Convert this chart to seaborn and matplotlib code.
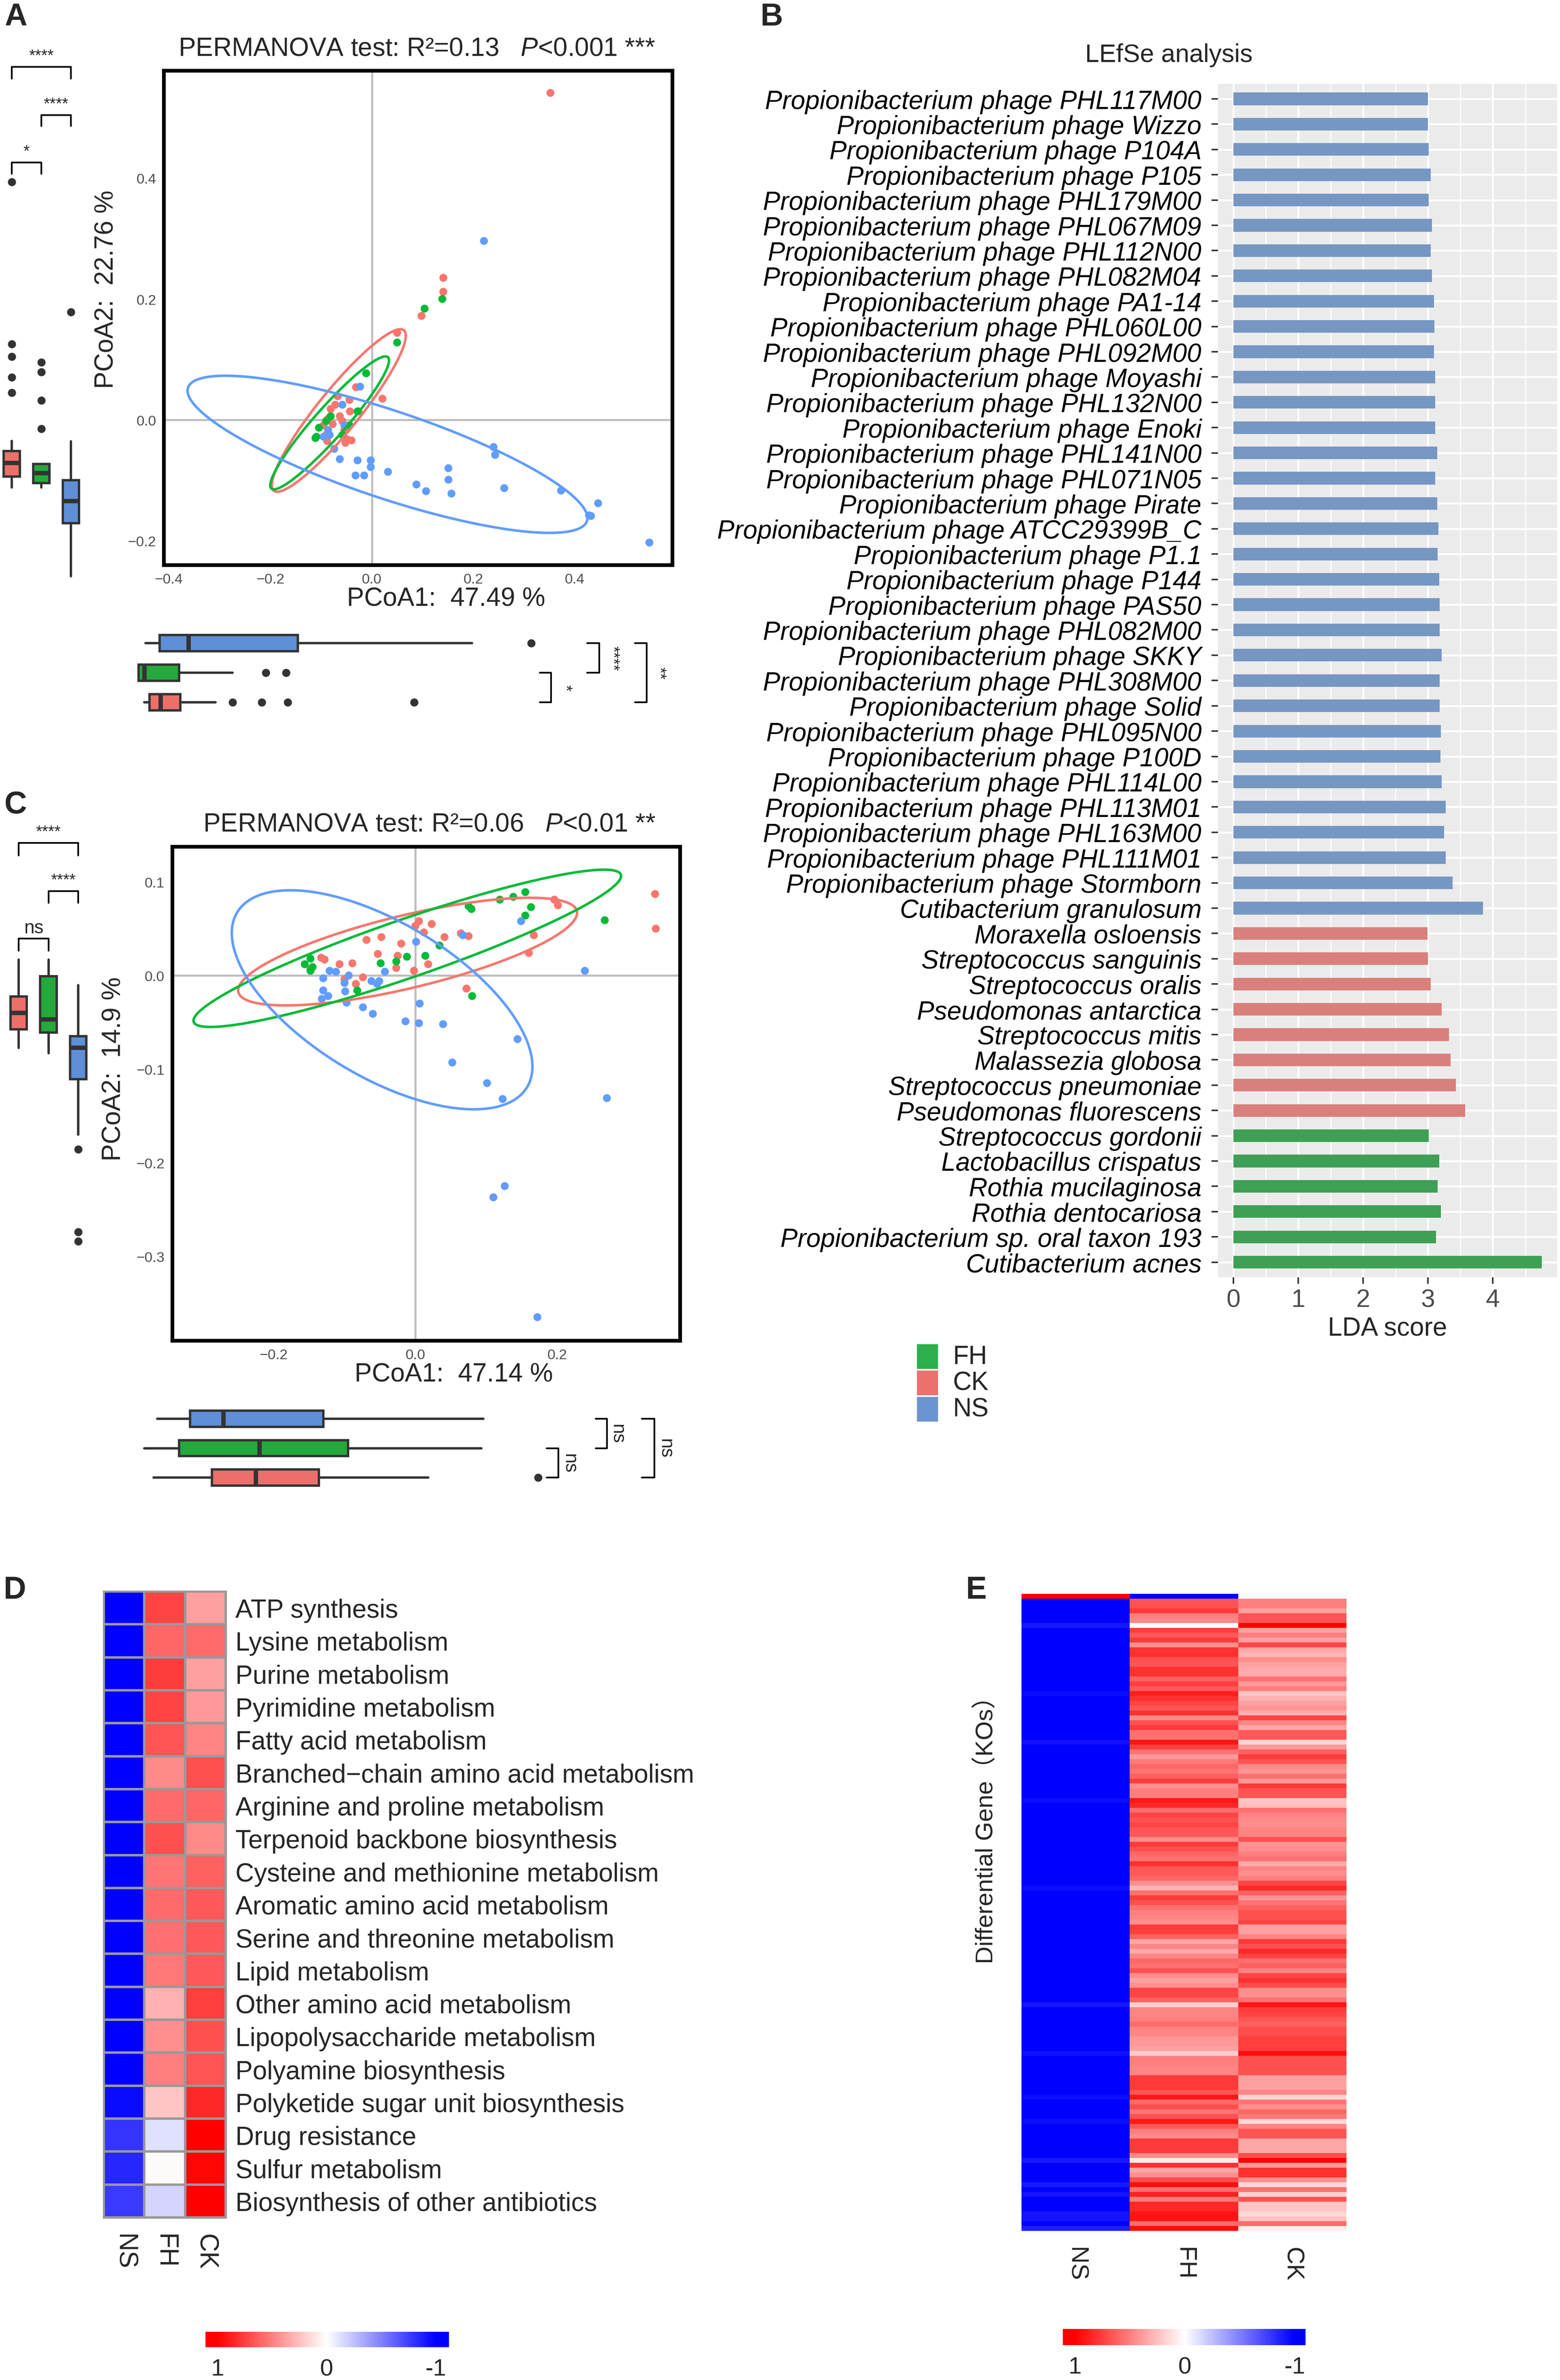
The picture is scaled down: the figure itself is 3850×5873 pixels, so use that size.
import numpy as np
import pandas as pd
import matplotlib
matplotlib.use("Agg")
import matplotlib.pyplot as plt
from matplotlib.colors import LinearSegmentedColormap, Normalize
from matplotlib.patches import Rectangle
import seaborn as sns

sns.set_style("white")
plt.rcParams["font.family"] = ["Liberation Sans", "Noto Sans CJK SC", "DejaVu Sans"]
plt.rcParams["mathtext.fontset"] = "custom"
plt.rcParams["mathtext.rm"] = "Liberation Sans"
plt.rcParams["mathtext.it"] = "Liberation Sans:italic"

# ======================= DATA =======================
GROUPS = ["CK", "FH", "NS"]

# ---- Panel A : PCoA (PCoA1 47.49 %, PCoA2 22.76 %) ----
A_CK_X = [0.352, 0.141, 0.141, 0.098, 0.050, 0.021, -0.031, -0.044, -0.043, -0.063, -0.072, -0.081,
          -0.077, -0.090, -0.095, -0.049, -0.040, -0.054, -0.067, -0.026, -0.086, -0.058, -0.088, -0.052]
A_CK_Y = [0.541, 0.235, 0.212, 0.172, 0.144, 0.035, 0.054, 0.033, 0.014, 0.006, 0.025, 0.018,
          -0.007, -0.025, -0.009, -0.032, -0.034, -0.017, 0.039, 0.014, 0.002, -0.002, -0.035, -0.038]
A_FH_X = [0.104, 0.139, 0.050, -0.011, -0.028, -0.081, -0.109, -0.111, -0.104, -0.044, -0.090, -0.058]
A_FH_Y = [0.184, 0.200, 0.128, 0.077, 0.014, 0.006, -0.028, -0.030, -0.013, -0.009, -0.002, -0.025]
A_NS_X = [0.221, -0.023, -0.058, -0.083, -0.074, -0.063, -0.028, -0.002, -0.002, -0.032, -0.015, 0.032,
          0.088, 0.107, 0.151, 0.151, 0.157, 0.240, 0.243, 0.261, 0.373, 0.446, 0.432, 0.428, 0.547,
          -0.086, -0.054, -0.095]
A_NS_Y = [0.296, 0.055, 0.025, -0.025, -0.048, -0.065, -0.067, -0.067, -0.078, -0.092, -0.092, -0.086,
          -0.107, -0.118, -0.080, -0.099, -0.122, -0.045, -0.058, -0.113, -0.117, -0.138, -0.159, -0.158,
          -0.203, -0.017, -0.009, -0.028]
# confidence ellipses: centre x, centre y, half x-extent, half y-extent, correlation
A_ELLIPSES = {"CK": [-0.065, 0.0155, 0.132, 0.1345, 0.92],
              "FH": [-0.083, -0.005, 0.117, 0.110, 0.94],
              "NS": [0.031, -0.057, 0.394, 0.130, -0.81]}
# marginal boxplots (PCoA2 on the left, PCoA1 below)
A_BOX_PC2 = {"CK": dict(whislo=-0.112, q1=-0.094, med=-0.071, q3=-0.0515, whishi=-0.035,
                        fliers=[0.393, 0.125, 0.104, 0.070, 0.045]),
             "FH": dict(whislo=-0.112, q1=-0.105, med=-0.088, q3=-0.073, whishi=-0.073,
                        fliers=[0.095, 0.079, 0.032, -0.015]),
             "NS": dict(whislo=-0.259, q1=-0.171, med=-0.134, q3=-0.100, whishi=-0.036,
                        fliers=[0.178])}
A_BOX_PC1 = {"NS": dict(whislo=-0.445, q1=-0.417, med=-0.361, q3=-0.145, whishi=0.198, fliers=[0.315]),
             "FH": dict(whislo=-0.459, q1=-0.459, med=-0.448, q3=-0.379, whishi=-0.274,
                        fliers=[-0.208, -0.168]),
             "CK": dict(whislo=-0.448, q1=-0.437, med=-0.416, q3=-0.377, whishi=-0.307,
                        fliers=[-0.274, -0.216, -0.165, 0.084])}
A_SIG_PC2 = ["****", "****", "*"]        # CK-NS, FH-NS, CK-FH
A_SIG_PC1 = ["*", "****", "**"]          # FH-CK, NS-FH, NS-CK

# ---- Panel C : PCoA (PCoA1 47.14 %, PCoA2 14.9 %) ----
C_CK_X = [0.338, 0.339, 0.196, 0.201, 0.167, 0.160, 0.072, 0.075, 0.064, 0.041, 0.023, 0.005, 0.000,
          0.012, 0.018, -0.002, -0.020, -0.025, -0.027, -0.048, -0.053, -0.069, -0.089, -0.107, -0.133,
          -0.128, -0.084, -0.074, -0.148, -0.100]
C_CK_Y = [0.087, 0.050, 0.081, 0.075, 0.043, 0.024, -0.014, 0.042, 0.045, 0.041, 0.055, 0.058, 0.053,
          0.046, 0.012, 0.005, 0.034, 0.021, 0.008, 0.041, 0.023, 0.038, 0.013, 0.012, 0.019,
          0.017, -0.009, -0.002, 0.007, -0.004]
C_FH_X = [0.155, 0.138, 0.119, 0.075, 0.079, 0.163, 0.155, 0.267, 0.080, 0.034, 0.014, -0.012, -0.027,
          -0.049, -0.082, -0.148, -0.156, -0.148, -0.145]
C_FH_Y = [0.089, 0.084, 0.081, 0.074, 0.071, 0.073, 0.064, 0.059, -0.022, 0.032, 0.021, 0.020, 0.015,
          0.013, -0.016, 0.018, 0.012, 0.005, 0.009]
C_NS_X = [0.270, 0.239, 0.149, 0.067, 0.001, 0.144, 0.101, 0.123, 0.052, 0.039, 0.005, -0.014, 0.006,
          0.126, 0.110, 0.172, -0.060, -0.074, -0.097, -0.099, -0.130, -0.132, -0.123, -0.130, -0.121,
          -0.112, -0.094, -0.100, -0.062, -0.054, -0.051, -0.043]
C_NS_Y = [-0.131, 0.005, 0.058, 0.043, 0.036, -0.068, -0.115, -0.132, -0.093, -0.052, -0.051, -0.049,
          -0.030, -0.225, -0.237, -0.365, -0.041, -0.034, -0.029, -0.017, -0.016, -0.025, -0.022, -0.003,
          0.005, 0.004, 0.000, -0.008, -0.006, -0.009, -0.006, 0.004]
C_ELLIPSES = {"CK": [-0.011, 0.0255, 0.239, 0.0575, 0.72],
              "FH": [-0.0115, 0.029, 0.3015, 0.084, 0.92],
              "NS": [-0.047, -0.026, 0.212, 0.117, -0.61]}
C_BOX_PC2 = {"CK": dict(whislo=-0.0775, q1=-0.0576, med=-0.040, q3=-0.0225, whishi=0.0168, fliers=[]),
             "FH": dict(whislo=-0.083, q1=-0.061, med=-0.047, q3=-0.001, whishi=0.017, fliers=[]),
             "NS": dict(whislo=-0.170, q1=-0.111, med=-0.077, q3=-0.065, whishi=-0.0105,
                        fliers=[-0.186, -0.274, -0.284])}
C_BOX_PC1 = {"NS": dict(whislo=-0.364, q1=-0.318, med=-0.271, q3=-0.130, whishi=0.096, fliers=[]),
             "FH": dict(whislo=-0.382, q1=-0.333, med=-0.220, q3=-0.095, whishi=0.093, fliers=[]),
             "CK": dict(whislo=-0.369, q1=-0.287, med=-0.225, q3=-0.136, whishi=0.018, fliers=[0.173])}
C_SIG_PC2 = ["****", "****", "ns"]
C_SIG_PC1 = ["ns", "ns", "ns"]

# ---- Panel B : LEfSe ----
LEFSE_TAXA = [
    "Propionibacterium phage PHL117M00", "Propionibacterium phage Wizzo", "Propionibacterium phage P104A",
    "Propionibacterium phage P105", "Propionibacterium phage PHL179M00", "Propionibacterium phage PHL067M09",
    "Propionibacterium phage PHL112N00", "Propionibacterium phage PHL082M04", "Propionibacterium phage PA1-14",
    "Propionibacterium phage PHL060L00", "Propionibacterium phage PHL092M00", "Propionibacterium phage Moyashi",
    "Propionibacterium phage PHL132N00", "Propionibacterium phage Enoki", "Propionibacterium phage PHL141N00",
    "Propionibacterium phage PHL071N05", "Propionibacterium phage Pirate", "Propionibacterium phage ATCC29399B_C",
    "Propionibacterium phage P1.1", "Propionibacterium phage P144", "Propionibacterium phage PAS50",
    "Propionibacterium phage PHL082M00", "Propionibacterium phage SKKY", "Propionibacterium phage PHL308M00",
    "Propionibacterium phage Solid", "Propionibacterium phage PHL095N00", "Propionibacterium phage P100D",
    "Propionibacterium phage PHL114L00", "Propionibacterium phage PHL113M01", "Propionibacterium phage PHL163M00",
    "Propionibacterium phage PHL111M01", "Propionibacterium phage Stormborn", "Cutibacterium granulosum",
    "Moraxella osloensis", "Streptococcus sanguinis", "Streptococcus oralis", "Pseudomonas antarctica",
    "Streptococcus mitis", "Malassezia globosa", "Streptococcus pneumoniae", "Pseudomonas fluorescens",
    "Streptococcus gordonii", "Lactobacillus crispatus", "Rothia mucilaginosa", "Rothia dentocariosa",
    "Propionibacterium sp. oral taxon 193", "Cutibacterium acnes"]
LEFSE_LDA = [3.00, 3.00, 3.01, 3.04, 3.01, 3.06, 3.04, 3.06, 3.09, 3.10, 3.09, 3.11, 3.11, 3.11, 3.14,
             3.11, 3.14, 3.16, 3.15, 3.17, 3.18, 3.18, 3.21, 3.18, 3.18, 3.20, 3.19, 3.21, 3.27, 3.25,
             3.27, 3.38, 3.85,
             2.99, 3.00, 3.04, 3.21, 3.32, 3.35, 3.43, 3.57,
             3.01, 3.17, 3.15, 3.20, 3.12, 4.75]
LEFSE_GROUP = ["NS"] * 33 + ["CK"] * 8 + ["FH"] * 6
LEFSE_LEGEND = ["FH", "CK", "NS"]

# ---- Panel D : pathway heatmap ----
D_PATHWAYS = ["ATP synthesis", "Lysine metabolism", "Purine metabolism", "Pyrimidine metabolism",
              "Fatty acid metabolism", "Branched\u2212chain amino acid metabolism",
              "Arginine and proline metabolism", "Terpenoid backbone biosynthesis",
              "Cysteine and methionine metabolism", "Aromatic amino acid metabolism",
              "Serine and threonine metabolism", "Lipid metabolism", "Other amino acid metabolism",
              "Lipopolysaccharide metabolism", "Polyamine biosynthesis",
              "Polyketide sugar unit biosynthesis", "Drug resistance", "Sulfur metabolism",
              "Biosynthesis of other antibiotics"]
D_NS = [-1, -1, -1, -1, -1, -1, -1, -1, -1, -1, -1, -1, -1, -1, -1, -0.96, -0.79, -0.85, -0.77]
D_FH = [0.73, 0.60, 0.76, 0.73, 0.67, 0.46, 0.58, 0.68, 0.54, 0.58, 0.56, 0.53, 0.31, 0.44, 0.50,
        0.23, -0.12, 0.02, -0.17]
D_CK = [0.37, 0.58, 0.37, 0.40, 0.48, 0.68, 0.60, 0.46, 0.62, 0.65, 0.65, 0.65, 0.75, 0.68, 0.67,
        0.84, 1.00, 0.97, 1.00]
HEAT_COLS = ["NS", "FH", "CK"]

# ---- Panel E : differential KO heatmap (131 KOs) ----
E_NS = [1.00, -1, -1, -1, -1, -1, -0.90, -1, -1, -1,
        -1, -1, -1, -1, -1, -1, -1, -1, -1, -1,
        -0.96, -1, -1, -1, -1, -1, -1, -1, -1, -1,
        -0.93, -1, -1, -1, -1, -1, -1, -1, -1, -1,
        -1, -1, -0.95, -1, -1, -1, -1, -1, -1, -1,
        -1, -1, -1, -1, -1, -1, -1, -1, -1, -1,
        -0.95, -1, -1, -1, -1, -1, -1, -1, -1, -1,
        -1, -1, -1, -1, -1, -1, -1, -1, -1, -1,
        -1, -1, -1, -1, -0.92, -1, -1, -1, -1, -1,
        -1, -1, -1, -1, -0.93, -1, -1, -1, -1, -1,
        -1, -1, -1, -0.95, -1, -1, -1, -1, -0.95, -1,
        -1, -1, -1, -1, -1, -1, -0.90, -1, -1, -1,
        -1, -0.90, -1, -0.92, -1, -1, -1, -0.92, -0.92, -1,
        -0.88]
E_FH = [-1.00,
        0.67, 0.68, 0.78, 0.50, 0.47, 0.00, 0.75, 0.65, 0.77, 0.44,
        0.80, 0.82, 0.68, 0.67, 0.80, 0.80, 0.62, 0.75, 0.65, 0.88,
        0.81, 0.73, 0.67, 0.81, 0.46, 0.68, 0.77, 0.56, 0.56, 0.92,
        0.75, 0.54, 0.40, 0.52, 0.60, 0.54, 0.62, 0.76, 0.44, 0.50,
        0.50, 0.90, 0.84,
        0.58, 0.73, 0.68, 0.73, 0.67, 0.65, 0.46, 0.77, 0.68, 0.60,
        0.56, 0.81, 0.65, 0.65, 0.60, 0.44, 0.29, 0.56, 0.76, 0.68,
        0.56, 0.50, 0.48, 0.44, 0.77, 0.75, 0.62, 0.35, 0.48, 0.33,
        0.48, 0.60, 0.56, 0.68, 0.44, 0.37, 0.44, 0.73, 0.73, 0.62,
        0.18, 0.48, 0.48, 0.50, 0.58, 0.48, 0.48,
        0.40, 0.40, 0.37, 0.20, 0.50, 0.50, 0.48, 0.48, 0.77, 0.77,
        0.78, 0.67, 0.90, 0.58, 0.70, 0.54, 0.68, 0.90, 0.65, 0.50,
        0.46, 0.77, 0.77, 0.77, 0.46, 0.08, 0.81, 0.35, 0.44, 0.70,
        0.94, 0.56, 0.87, 0.52, 0.84, 0.84, 0.92, 0.92, 0.58, 0.96]
E_CK = [-0.03,
        0.50, 0.50, 0.37, 0.67, 0.67, 1.00, 0.37, 0.50, 0.37, 0.73,
        0.35, 0.29, 0.44, 0.37, 0.33, 0.33, 0.56, 0.40, 0.50, 0.23,
        0.31, 0.37, 0.42, 0.31, 0.73, 0.48, 0.35, 0.65, 0.65, 0.17,
        0.40, 0.62, 0.77, 0.67, 0.46, 0.42, 0.56, 0.40, 0.77, 0.67,
        0.67, 0.23, 0.25,
        0.56, 0.48, 0.46, 0.44, 0.48, 0.48, 0.68, 0.42, 0.44, 0.50,
        0.56, 0.33, 0.48, 0.44, 0.50, 0.73, 0.84, 0.62, 0.42, 0.54,
        0.62, 0.68, 0.68, 0.73, 0.37, 0.37, 0.48, 0.77, 0.68, 0.84,
        0.73, 0.56, 0.62, 0.48, 0.73, 0.81, 0.70, 0.44, 0.44, 0.56,
        0.92, 0.77, 0.73, 0.67, 0.62, 0.70, 0.70,
        0.75, 0.75, 0.75, 0.94, 0.68, 0.68, 0.68, 0.68, 0.37, 0.37,
        0.37, 0.48, 0.17, 0.54, 0.44, 0.60, 0.52, 0.15, 0.48, 0.67,
        0.67, 0.35, 0.35, 0.35, 0.70, 0.98, 0.40, 0.81, 0.81, 0.44,
        0.15, 0.56, 0.18, 0.67, 0.23, 0.23, 0.15, 0.23, 0.58, 0.06]

# ======================= STYLE =======================
PT_COL = {"CK": "#F8766D", "FH": "#00BA38", "NS": "#619CFF"}
BOX_COL = {"CK": "#EC7069", "FH": "#25A83C", "NS": "#5F8FD6"}
BAR_COL = {"CK": "#EA726C", "FH": "#2DB04B", "NS": "#6A95D0"}
CMAP = LinearSegmentedColormap.from_list("bwr_ph", ["#0000FF", "#FFFFFF", "#FF0000"])
DARK = "#333333"

W, H, DPI = 3850, 5874, 300
fig = plt.figure(figsize=(W / DPI, H / DPI), dpi=DPI)


def rect(l, t, r, b):
    return [l / W, 1 - b / H, (r - l) / W, (b - t) / H]


def ftext(x, y, s, **kw):
    return fig.text(x / W, 1 - y / H, s, **kw)


def minus(v):
    return ("%.1f" % v).replace("-", "\u2212")


def draw_boxes(ax, stats_dict, order, positions, horizontal):
    stats = [dict(stats_dict[g]) for g in order]
    kw = dict(positions=positions, widths=0.55, patch_artist=True, showcaps=False, manage_ticks=False,
              boxprops=dict(edgecolor=DARK, linewidth=1.4),
              whiskerprops=dict(color=DARK, linewidth=1.4),
              medianprops=dict(color=DARK, linewidth=2.6, solid_capstyle="butt"),
              flierprops=dict(marker="o", markerfacecolor=DARK, markeredgecolor=DARK,
                              markersize=3.8, linestyle="none"))
    try:
        arts = ax.bxp(stats, orientation="horizontal" if horizontal else "vertical", **kw)
    except TypeError:
        arts = ax.bxp(stats, vert=not horizontal, **kw)
    for patch, g in zip(arts["boxes"], order):
        patch.set_facecolor(BOX_COL[g])


def clean(ax):
    ax.set_facecolor("none")
    for s in ax.spines.values():
        s.set_visible(False)
    ax.set_xticks([])
    ax.set_yticks([])


def pcoa_panel(box, xlim, ylim, xticks, yticks, pts, ell):
    ax = fig.add_axes(rect(*box))
    ax.axhline(0, color="#BEBEBE", lw=1.2, zorder=0)
    ax.axvline(0, color="#BEBEBE", lw=1.2, zorder=0)
    frames = [pd.DataFrame({"x": pts[g][0], "y": pts[g][1], "grp": g}) for g in GROUPS]
    df = pd.concat(frames, ignore_index=True)
    sns.scatterplot(data=df, x="x", y="y", hue="grp", palette=PT_COL, hue_order=GROUPS,
                    s=22, linewidth=0, legend=False, ax=ax, zorder=3)
    t = np.linspace(0, 2 * np.pi, 400)
    for g in GROUPS:
        cx, cy, hx, hy, rho = ell[g]
        ex = cx + hx * np.cos(t)
        ey = cy + hy * (rho * np.cos(t) + np.sqrt(1 - rho ** 2) * np.sin(t))
        ax.plot(ex, ey, color=PT_COL[g], lw=1.5, zorder=4)
    ax.set_xlim(xlim)
    ax.set_ylim(ylim)
    ax.set_xticks(xticks)
    ax.set_xticklabels([minus(v) for v in xticks])
    ax.set_yticks(yticks)
    ax.set_yticklabels([minus(v) for v in yticks])
    ax.set_xlabel("")
    ax.set_ylabel("")
    ax.tick_params(axis="both", direction="out", length=3, width=0.8, color=DARK,
                   labelsize=8.5, labelcolor="#4D4D4D", pad=1.5)
    for s in ax.spines.values():
        s.set_visible(True)
        s.set_linewidth(2.2)
        s.set_color("black")
    return ax


def vbracket(ax, x1, x2, yline, ytick, label, ytext, fs):
    ax.plot([x1, x1, x2, x2], [ytick, yline, yline, ytick], color="black", lw=1.0, clip_on=False)
    ax.text((x1 + x2) / 2, ytext, label, ha="center", va="baseline", fontsize=fs)


def hbracket(ax, p1, p2, xline, xtick, label, xtext, fs):
    ax.plot([xtick, xline, xline, xtick], [p1, p1, p2, p2], color="black", lw=1.0, clip_on=False)
    ax.text(xtext, (p1 + p2) / 2, label, rotation=270, ha="center", va="center", fontsize=fs)


# ======================= PANEL A =======================
axA = pcoa_panel((404, 175, 1659, 1395), (-0.41, 0.592), (-0.24, 0.578),
                 [-0.4, -0.2, 0.0, 0.2, 0.4], [-0.2, 0.0, 0.2, 0.4],
                 {"CK": (A_CK_X, A_CK_Y), "FH": (A_FH_X, A_FH_Y), "NS": (A_NS_X, A_NS_Y)}, A_ELLIPSES)
ftext(1029, 121, r"PERMANOVA test: R²=0.13   $\mathit{P}$<0.001 ***", ha="center", va="center", fontsize=15.3)
ftext(1101, 1479, "PCoA1:  47.49 %", ha="center", va="center", fontsize=15.3)
ftext(262, 714, "PCoA2:  22.76 %", ha="center", va="center", fontsize=15.3, rotation=90)

# left marginal boxes (PCoA2)
vA = lambda py: (1036.7 - py) / 1492.5
axAL = fig.add_axes(rect(0, 100, 230, 1450))
draw_boxes(axAL, A_BOX_PC2, GROUPS, [1, 2, 3], horizontal=False)
clean(axAL)
axAL.set_xlim(1 - 29 / 73, 1 + 201 / 73)
axAL.set_ylim(vA(1450), vA(100))
vbracket(axAL, 1, 3, vA(166), vA(195), A_SIG_PC2[0], vA(150), 9.5)
vbracket(axAL, 2, 3, vA(285), vA(312), A_SIG_PC2[1], vA(269), 9.5)
vbracket(axAL, 1, 2, vA(402), vA(430), A_SIG_PC2[2], vA(386), 9.5)

# bottom marginal boxes (PCoA1)
hA = lambda px: (px - 916.8) / 1252.6
axAB = fig.add_axes(rect(330, 1540, 1700, 1780))
draw_boxes(axAB, A_BOX_PC1, ["NS", "FH", "CK"], [0, 1, 2], horizontal=True)
clean(axAB)
axAB.set_xlim(hA(330), hA(1700))
axAB.set_ylim((1780 - 1588) / 73, (1540 - 1588) / 73)
hbracket(axAB, 1, 2, hA(1360), hA(1332), A_SIG_PC1[0], hA(1395), 9.5)
hbracket(axAB, 0, 1, hA(1479), hA(1449), A_SIG_PC1[1], hA(1512), 9.5)
hbracket(axAB, 0, 2, hA(1596), hA(1567), A_SIG_PC1[2], hA(1627), 9.5)

# ======================= PANEL C =======================
axC = pcoa_panel((425, 2090, 1678, 3309), (-0.343, 0.373), (-0.390, 0.1377),
                 [-0.2, 0.0, 0.2], [-0.3, -0.2, -0.1, 0.0, 0.1],
                 {"CK": (C_CK_X, C_CK_Y), "FH": (C_FH_X, C_FH_Y), "NS": (C_NS_X, C_NS_Y)}, C_ELLIPSES)
ftext(1060, 2035, r"PERMANOVA test: R²=0.06   $\mathit{P}$<0.01 **", ha="center", va="center", fontsize=15.3)
ftext(1120, 3393, "PCoA1:  47.14 %", ha="center", va="center", fontsize=15.3)
ftext(281, 2638, "PCoA2:  14.9 %", ha="center", va="center", fontsize=15.3, rotation=90)

vC = lambda py: (2407.9 - py) / 2309.5
axCL = fig.add_axes(rect(0, 2000, 230, 3310))
draw_boxes(axCL, C_BOX_PC2, GROUPS, [1, 2, 3], horizontal=False)
clean(axCL)
axCL.set_xlim(1 - 46 / 73.5, 1 + 184 / 73.5)
axCL.set_ylim(vC(3310), vC(2000))
vbracket(axCL, 1, 3, vC(2081), vC(2112), C_SIG_PC2[0], vC(2065), 9.5)
vbracket(axCL, 2, 3, vC(2200), vC(2229), C_SIG_PC2[1], vC(2184), 9.5)
vbracket(axCL, 1, 2, vC(2317), vC(2347), C_SIG_PC2[2], vC(2303), 11)

hC = lambda px: (px - 1025.3) / 1750.9
axCB = fig.add_axes(rect(330, 3450, 1700, 3700))
draw_boxes(axCB, C_BOX_PC1, ["NS", "FH", "CK"], [0, 1, 2], horizontal=True)
clean(axCB)
axCB.set_xlim(hC(330), hC(1700))
axCB.set_ylim((3700 - 3502) / 72.5, (3450 - 3502) / 72.5)
hbracket(axCB, 1, 2, hC(1378), hC(1349), C_SIG_PC1[0], hC(1405), 11)
hbracket(axCB, 0, 1, hC(1498), hC(1470), C_SIG_PC1[1], hC(1523), 11)
hbracket(axCB, 0, 2, hC(1615), hC(1584), C_SIG_PC1[2], hC(1642), 11)

# ======================= PANEL B =======================
dfb = pd.DataFrame({"taxon": LEFSE_TAXA, "lda": LEFSE_LDA, "grp": LEFSE_GROUP})
axB = fig.add_axes(rect(3006, 207.6, 3843, 3153))
axB.set_facecolor("#EBEBEB")
sns.barplot(data=dfb, y="taxon", x="lda", hue="grp", palette=BAR_COL, order=LEFSE_TAXA,
            hue_order=["NS", "CK", "FH"], dodge=False, width=0.5, orient="h", errorbar=None,
            linewidth=0, legend=False, ax=axB)
axB.set_xlim(-0.237, 4.99)
axB.set_ylim(len(LEFSE_TAXA) - 0.4, -0.6)
axB.set_xticks([0, 1, 2, 3, 4])
axB.set_xticks(np.arange(0.5, 5.0, 1.0), minor=True)
axB.set_axisbelow(True)
axB.grid(True, which="major", color="white", lw=1.1)
axB.grid(True, which="minor", axis="x", color="white", lw=0.6)
for s in axB.spines.values():
    s.set_visible(False)
axB.set_yticks(range(len(LEFSE_TAXA)))
axB.set_yticklabels(LEFSE_TAXA, fontstyle="italic", fontsize=15.3, color="black")
axB.tick_params(axis="y", which="major", length=3.8, width=0.9, color=DARK, pad=6, left=True)
axB.tick_params(axis="x", which="major", length=3.8, width=0.9, color=DARK, pad=2.5,
                labelsize=15, labelcolor="#4D4D4D", bottom=True)
axB.tick_params(axis="x", which="minor", length=0)
axB.set_xlabel("")
axB.set_ylabel("")
ftext(2885, 136, "LEfSe analysis", ha="center", va="center", fontsize=15)
ftext(3424, 3279, "LDA score", ha="center", va="center", fontsize=15.3)
for i, g in enumerate(LEFSE_LEGEND):
    top = 3318 + i * 65
    fig.add_artist(Rectangle((2263 / W, 1 - (top + 61) / H), 52 / W, 61 / H,
                             transform=fig.transFigure, facecolor=BAR_COL[g], edgecolor="none"))
    ftext(2352, top + 31, g, ha="left", va="center", fontsize=15.3)

# ======================= PANEL D =======================
dfd = pd.DataFrame({"NS": D_NS, "FH": D_FH, "CK": D_CK}, index=D_PATHWAYS)[HEAT_COLS]
axD = fig.add_axes(rect(256, 3928, 557, 5473))
sns.heatmap(dfd, cmap=CMAP, vmin=-1, vmax=1, cbar=False, linewidths=1.0, linecolor="#999999", ax=axD)
axD.yaxis.tick_right()
axD.set_yticks(np.arange(len(D_PATHWAYS)) + 0.5)
axD.set_yticklabels(D_PATHWAYS, rotation=0, fontsize=15.3)
axD.set_xticklabels(HEAT_COLS, rotation=270, fontsize=15.3)
axD.tick_params(axis="y", length=0, pad=5.8)
axD.tick_params(axis="x", length=0, pad=9.6)
axD.set_xlabel("")
axD.set_ylabel("")
for s in axD.spines.values():
    s.set_visible(True)
    s.set_color("#999999")
    s.set_linewidth(1.2)

# ======================= PANEL E =======================
dfe = pd.DataFrame({"NS": E_NS, "FH": E_FH, "CK": E_CK})[HEAT_COLS]
axE = fig.add_axes(rect(2521, 3934, 3323, 5506))
sns.heatmap(dfe, cmap=CMAP, vmin=-1, vmax=1, cbar=False, yticklabels=False, ax=axE)
axE.set_xticklabels(HEAT_COLS, rotation=270, fontsize=14.5)
axE.tick_params(axis="x", length=0, pad=9.6)
axE.set_xlabel("")
axE.set_ylabel("")
ftext(2433, 4501, "Differential Gene（KOs）", ha="center", va="center", fontsize=14.5, rotation=90)


# colour legends
def legend_bar(l, t, r, b, vleft, vright):
    cax = fig.add_axes(rect(l, t, r, b))
    edges = np.linspace(vright, vleft, 301)
    centers = (edges[:-1] + edges[1:]) / 2
    cax.pcolormesh(edges, [0, 1], centers[None, :], cmap=CMAP, norm=Normalize(-1, 1), shading="flat")
    cax.set_xlim(vleft, vright)
    cax.set_ylim(0, 1)
    cax.set_xticks([1, 0, -1])
    cax.set_xticklabels(["1", "0", "-1"])
    cax.set_yticks([])
    cax.tick_params(axis="x", length=0, pad=6.5, labelsize=14)
    for s in cax.spines.values():
        s.set_visible(False)


legend_bar(507, 5755, 1108, 5793, 1.11, -1.12)
legend_bar(2623, 5748, 3222, 5788, 1.11, -1.10)

# ======================= PANEL LETTERS =======================
for letter, x, y in [("A", 11, 6), ("B", 1877, 6), ("C", 11, 1950), ("D", 9, 3888), ("E", 2384, 3888)]:
    ftext(x, y, letter, ha="left", va="top", fontsize=18.5, fontweight="bold")

fig.savefig("out.png", dpi=DPI)
